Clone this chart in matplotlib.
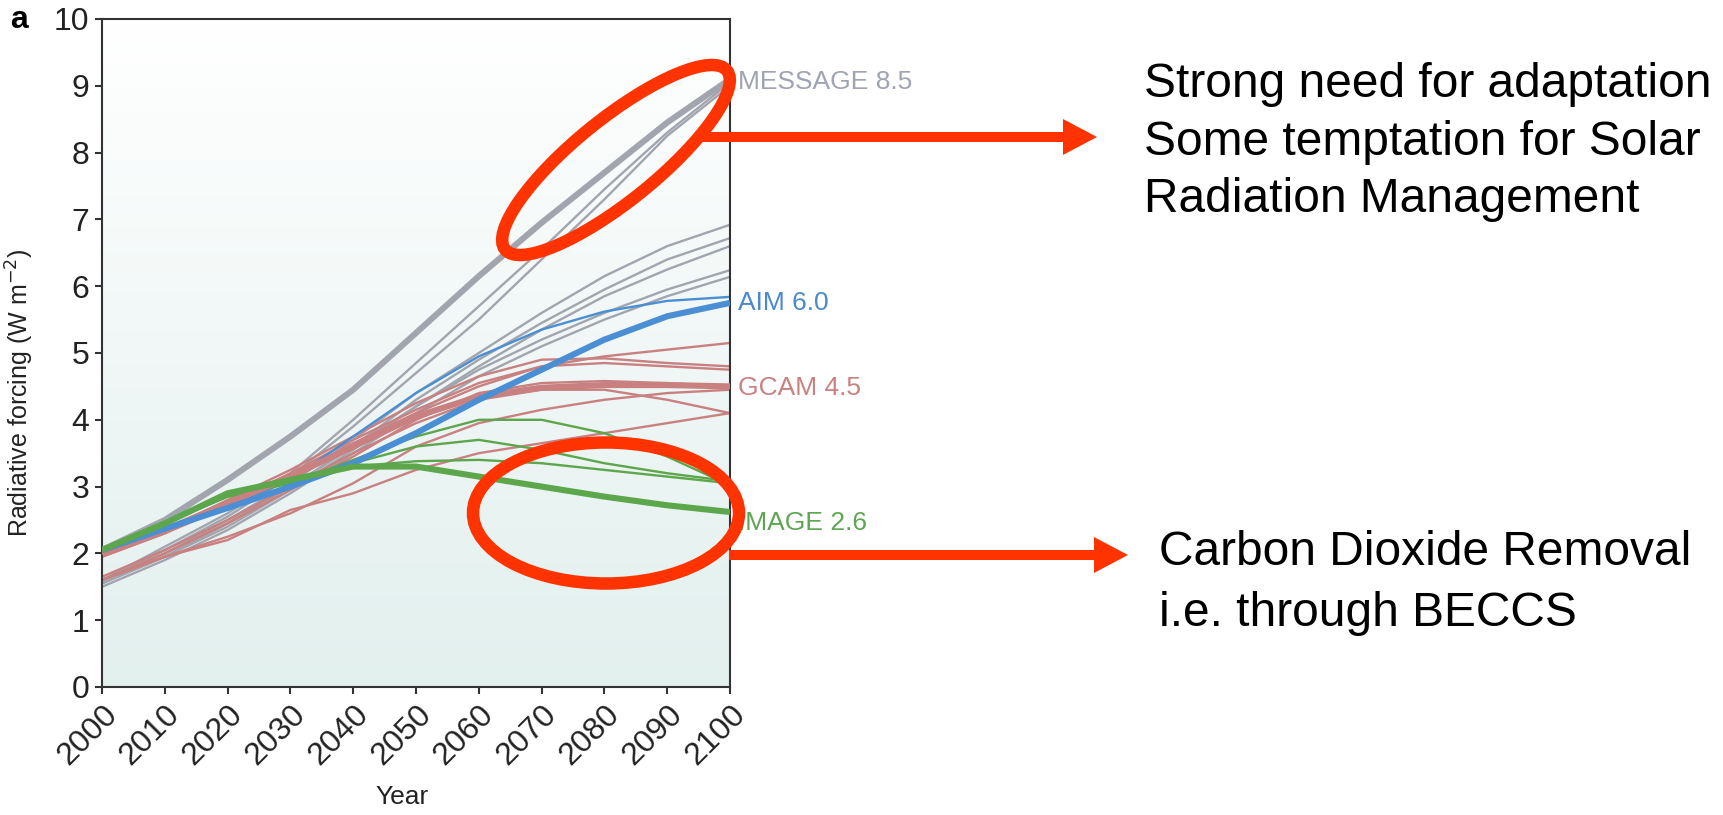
import numpy as np
import matplotlib
matplotlib.use("Agg")
import matplotlib.pyplot as plt
from matplotlib.patches import Ellipse, FancyArrow

plt.rcParams['font.family'] = ['Liberation Sans', 'DejaVu Sans']

# radiative forcing pathways (W m-2)
years = [2000, 2010, 2020, 2030, 2040, 2050, 2060, 2070, 2080, 2090, 2100]

message_main = [2.05, 2.5, 3.1, 3.75, 4.45, 5.3, 6.15, 6.95, 7.7, 8.45, 9.1]
message_alt = [
    [1.6, 2.1, 2.6, 3.2, 4.0, 4.85, 5.7, 6.55, 7.45, 8.3, 9.05],
    [1.6, 2.05, 2.55, 3.15, 3.9, 4.7, 5.5, 6.4, 7.3, 8.25, 9.0],
    [1.6, 2.0, 2.5, 3.05, 3.7, 4.4, 5.0, 5.6, 6.15, 6.6, 6.92],
    [1.55, 1.95, 2.45, 3.0, 3.6, 4.3, 4.9, 5.45, 5.95, 6.4, 6.72],
    [1.55, 1.95, 2.4, 2.95, 3.55, 4.2, 4.8, 5.35, 5.85, 6.25, 6.6],
    [1.6, 2.0, 2.45, 3.0, 3.6, 4.2, 4.75, 5.2, 5.6, 5.95, 6.24],
    [1.5, 1.9, 2.35, 2.9, 3.5, 4.1, 4.65, 5.1, 5.5, 5.85, 6.14],
]

aim_main = [2.05, 2.37, 2.68, 3.0, 3.35, 3.8, 4.3, 4.75, 5.2, 5.55, 5.75]
aim_alt = [
    [2.05, 2.37, 2.7, 3.1, 3.75, 4.4, 4.95, 5.35, 5.62, 5.78, 5.84],
]

gcam_main = [2.0, 2.35, 2.75, 3.15, 3.6, 4.05, 4.35, 4.48, 4.52, 4.52, 4.5]
gcam_alt = [
    [1.95, 2.3, 2.75, 3.2, 3.7, 4.15, 4.55, 4.8, 4.95, 5.05, 5.15],
    [2.0, 2.35, 2.8, 3.25, 3.75, 4.25, 4.65, 4.9, 4.92, 4.85, 4.8],
    [1.95, 2.3, 2.7, 3.15, 3.65, 4.1, 4.5, 4.8, 4.85, 4.8, 4.75],
    [1.6, 2.0, 2.45, 2.95, 3.45, 4.0, 4.4, 4.55, 4.58, 4.55, 4.5],
    [1.65, 2.05, 2.5, 3.0, 3.5, 3.95, 4.3, 4.45, 4.45, 4.3, 4.1],
    [1.6, 1.95, 2.2, 2.65, 2.9, 3.25, 3.5, 3.65, 3.8, 3.95, 4.1],
    [1.6, 1.95, 2.25, 2.6, 3.05, 3.6, 3.95, 4.15, 4.3, 4.4, 4.45],
]

image_main = [2.05, 2.45, 2.9, 3.1, 3.3, 3.3, 3.15, 3.0, 2.85, 2.72, 2.62]
image_alt = [
    [2.05, 2.45, 2.85, 3.05, 3.4, 3.75, 4.0, 4.0, 3.8, 3.45, 3.02],
    [2.05, 2.45, 2.85, 3.05, 3.35, 3.6, 3.7, 3.55, 3.35, 3.2, 3.08],
    [2.05, 2.45, 2.9, 3.1, 3.3, 3.38, 3.4, 3.35, 3.25, 3.15, 3.05],
]

end_labels = ["MESSAGE 8.5", "AIM 6.0", "GCAM 4.5", "IMAGE 2.6"]
end_label_y = [9.06, 5.75, 4.47, 2.46]

note_top = ["Strong need for adaptation", "Some temptation for Solar", "Radiation Management"]
note_bottom = ["Carbon Dioxide Removal", "i.e. through BECCS"]

GRAY = "#a2a5ae"
BLUE = "#4a8ed4"
RED = "#c98080"
GREEN = "#5ca64c"
MARK = "#ff3300"

W, H = 1724, 815
fig = plt.figure(figsize=(W / 100, H / 100), dpi=100)
ax = fig.add_axes([102 / W, 1 - 687 / H, 628 / W, 668 / H])

# pale gradient background
grad = np.linspace(0, 1, 256).reshape(-1, 1)
top = np.array([1.0, 1.0, 1.0])
bot = np.array([0.886, 0.941, 0.933])
bg = top + (bot - top) * grad[..., None]
ax.imshow(bg, extent=[2000, 2100, 0, 10], aspect='auto', origin='upper', zorder=0)

groups = [
    (message_main, message_alt, GRAY),
    (gcam_main, gcam_alt, RED),
    (aim_main, aim_alt, BLUE),
    (image_main, image_alt, GREEN),
]
for main, alts, col in groups:
    for s in alts:
        ax.plot(years, s, color=col, lw=1.7, zorder=2, solid_capstyle='butt')
    ax.plot(years, main, color=col, lw=4.4, zorder=3, solid_capstyle='butt')

label_cols = ["#9fa4b3", "#4a88cf", "#c98181", "#5ea651"]
for txt, yv, c in zip(end_labels, end_label_y, label_cols):
    ax.text(2101.3, yv, txt, color=c, fontsize=19, va='center', ha='left', clip_on=False)

ax.set_xlim(2000, 2100)
ax.set_ylim(0, 10)
ax.set_xticks(years)
ax.set_xticklabels([str(y) for y in years], rotation=45, ha='right', rotation_mode='anchor')
ax.set_yticks(range(0, 11))
ax.tick_params(labelsize=23, length=5, width=1.5, color='#333333', labelcolor='#222222', pad=4)
for sp in ax.spines.values():
    sp.set_color('#333333')
    sp.set_linewidth(1.5)

ax.set_ylabel("Radiative forcing (W m$^{-2}$)", fontsize=18, color='#222222')
ax.yaxis.set_label_coords(-0.105, 0.44)
ax.set_xlabel("Year", fontsize=19, color='#222222')
ax.xaxis.label.set_va('center')
ax.xaxis.set_label_coords(0.478, -0.165)

fig.text(10 / W, 1 - 28 / H, "a", fontsize=23, fontweight='bold', va='baseline')

# hand-drawn style highlight marks, placed in figure pixels (converted to inches)
inch = fig.dpi_scale_trans
def pin(x, y):
    return (x / 100, (H - y) / 100)

fig.add_artist(Ellipse(pin(616, 160), 285 / 100, 82 / 100, angle=38.9,
                       fill=False, ec=MARK, lw=9, transform=inch, zorder=10))
fig.add_artist(Ellipse(pin(606, 513), 266 / 100, 141 / 100, angle=0,
                       fill=False, ec=MARK, lw=9, transform=inch, zorder=10))

for x0, x1, y in [(703, 1097, 137), (729, 1128, 555)]:
    xs, ys = pin(x0, y)
    xe, _ = pin(x1, y)
    fig.add_artist(FancyArrow(xs, ys, xe - xs, 0, width=0.10, head_width=0.36,
                              head_length=0.34, length_includes_head=True,
                              color=MARK, lw=0, transform=inch, zorder=10))

for txt, base in zip(note_top, [97, 155, 212]):
    fig.text(1144 / W, 1 - base / H, txt, fontsize=34.5, va='baseline', ha='left')
for txt, base in zip(note_bottom, [565, 626]):
    fig.text(1159 / W, 1 - base / H, txt, fontsize=34.5, va='baseline', ha='left')

fig.savefig("out.png", dpi=100, facecolor='white')
